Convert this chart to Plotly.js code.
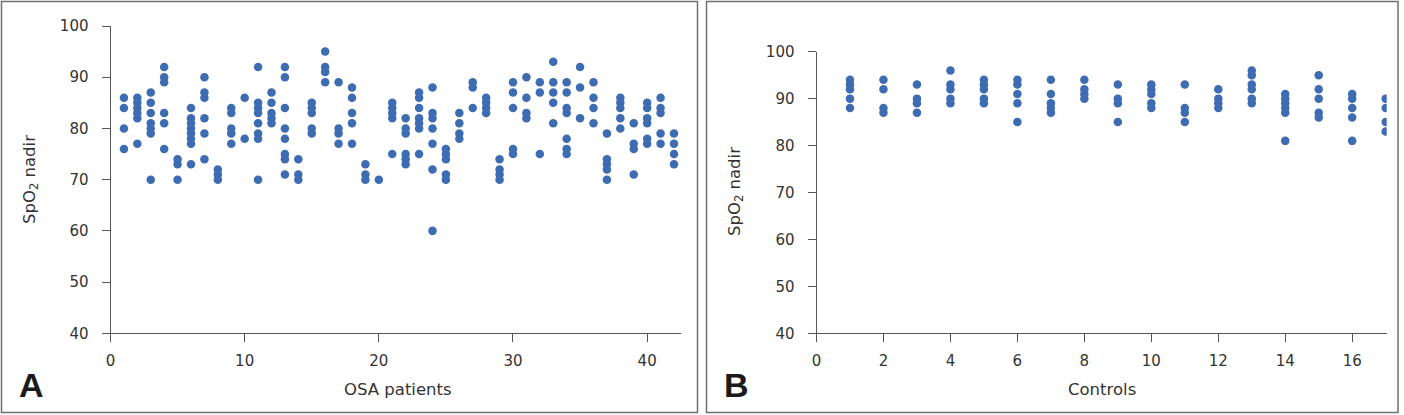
<!DOCTYPE html>
<html>
<head>
<meta charset="utf-8">
<script src="https://cdn.plot.ly/plotly-3.0.1.min.js"></script>
<style>html,body{margin:0;padding:0;background:#fff;}#chart{width:1404px;height:415px;}</style>
</head>
<body>
<div id="chart"></div>
<script>
// SpO2 nadir values per OSA patient (patient 1..42)
const osaValues = [
  [86, 84, 80, 76],
  [86, 85, 84, 83, 82, 77],
  [87, 85, 83, 81, 80, 79, 70],
  [92, 90, 89, 83, 81, 76],
  [74, 73, 70],
  [84, 82, 81, 80, 79, 78, 77, 73],
  [90, 87, 86, 82, 79, 74],
  [72, 71, 70],
  [84, 83, 80, 79, 77],
  [86, 78],
  [92, 85, 84, 83, 81, 79, 78, 70],
  [87, 85, 83, 82, 81],
  [92, 90, 84, 80, 78, 75, 74, 71],
  [74, 71, 70],
  [85, 84, 83, 80, 79],
  [95, 92, 91, 89],
  [89, 80, 79, 77],
  [88, 86, 83, 81, 77],
  [73, 71, 70],
  [70],
  [85, 84, 83, 82, 75],
  [82, 80, 79, 75, 74, 73],
  [87, 86, 84, 82, 81, 80, 75],
  [88, 83, 82, 80, 77, 72, 60],
  [76, 75, 74, 71, 70],
  [83, 81, 79, 78],
  [89, 88, 84],
  [86, 85, 84, 83],
  [74, 72, 71, 70],
  [89, 87, 84, 76, 75],
  [90, 86, 83, 82],
  [89, 87, 75],
  [93, 89, 87, 85, 81],
  [89, 87, 84, 83, 78, 76, 75],
  [92, 88, 82],
  [89, 86, 84, 81],
  [79, 74, 73, 72, 70],
  [86, 85, 84, 82, 80],
  [81, 77, 76, 71],
  [85, 84, 82, 81, 78, 77],
  [86, 84, 83, 79, 77],
  [79, 77, 75, 73]
];
// SpO2 nadir values per control subject (control 1..17)
const controlValues = [
  [94, 93, 92, 90, 88],
  [94, 92, 88, 87],
  [93, 90, 89, 87],
  [96, 93, 92, 90, 89],
  [94, 93, 92, 90, 89],
  [94, 93, 91, 89, 85],
  [94, 91, 89, 88, 87],
  [94, 92, 91, 90],
  [93, 90, 89, 85],
  [93, 92, 91, 89, 88],
  [93, 88, 87, 85],
  [92, 90, 89, 88],
  [96, 95, 93, 92, 90, 89],
  [91, 90, 89, 88, 87, 81],
  [95, 92, 90, 87, 86],
  [91, 90, 88, 86, 81],
  [90, 88, 85, 83]
];
const osaTicks = [0, 10, 20, 30, 40];
const controlTicks = [0, 2, 4, 6, 8, 10, 12, 14, 16];
const yTicks = [40, 50, 60, 70, 80, 90, 100];
const xTitleA = 'OSA patients';
const xTitleB = 'Controls';
const yTitle = 'SpO<sub>2</sub> nadir';

function flatten(groups) {
  const x = [], y = [];
  groups.forEach((vals, i) => vals.forEach(v => { x.push(i + 1); y.push(v); }));
  return {x, y};
}
const a = flatten(osaValues);
const b = flatten(controlValues);

const W = 1404, H = 415;
const px = v => v / W;
const py = v => 1 - v / H;

const dotColor = '#3d6cb3';
const marker = {color: dotColor, size: 8.5, line: {width: 0}};
const traces = [
  {type: 'scatter', mode: 'markers', x: a.x, y: a.y, xaxis: 'x', yaxis: 'y', marker, hoverinfo: 'x+y'},
  {type: 'scatter', mode: 'markers', x: b.x, y: b.y, xaxis: 'x2', yaxis: 'y2', marker, hoverinfo: 'x+y'}
];

const tickFont = {family: 'DejaVu Sans, sans-serif', size: 15, color: '#333'};
const axisCommon = {
  showgrid: false, zeroline: false, showline: true, linecolor: '#555', linewidth: 1,
  ticks: 'outside', ticklen: 8, tickcolor: '#555', tickwidth: 1,
  tickfont: tickFont, fixedrange: true
};

const layout = {
  width: W, height: H,
  margin: {l: 0, r: 0, t: 0, b: 0},
  paper_bgcolor: '#fff', plot_bgcolor: 'rgba(0,0,0,0)',
  showlegend: false,
  xaxis: Object.assign({}, axisCommon, {
    domain: [px(110.5), px(680.7)], range: [0, 42.5],
    tickvals: osaTicks, ticktext: osaTicks.map(String), anchor: 'y', ticklabelstandoff: 6
  }),
  yaxis: Object.assign({}, axisCommon, {
    domain: [py(333.3), py(26)], range: [40, 100],
    tickvals: yTicks, ticktext: yTicks.map(String), anchor: 'x', ticklabelstandoff: 10
  }),
  xaxis2: Object.assign({}, axisCommon, {
    domain: [px(816.5), px(1386.7)], range: [0, 17.03],
    tickvals: controlTicks, ticktext: controlTicks.map(String), anchor: 'y2', ticklabelstandoff: 6
  }),
  yaxis2: Object.assign({}, axisCommon, {
    domain: [py(333.3), py(51.7)], range: [40, 100],
    tickvals: yTicks, ticktext: yTicks.map(String), anchor: 'x2', ticklabelstandoff: 10
  }),
  shapes: [
    {type: 'rect', xref: 'paper', yref: 'paper', x0: px(1.5), x1: px(697.5), y0: py(412.5), y1: py(1.5),
     line: {color: '#707070', width: 1.5}},
    {type: 'rect', xref: 'paper', yref: 'paper', x0: px(706.5), x1: px(1398), y0: py(412.5), y1: py(1.5),
     line: {color: '#707070', width: 1.5}}
  ],
  annotations: [
    {xref: 'paper', yref: 'paper', x: px(398), y: py(389), text: xTitleA, showarrow: false,
     xanchor: 'center', yanchor: 'middle', font: {family: 'DejaVu Sans, sans-serif', size: 16.5, color: '#333'}},
    {xref: 'paper', yref: 'paper', x: px(1102), y: py(389), text: xTitleB, showarrow: false,
     xanchor: 'center', yanchor: 'middle', font: {family: 'DejaVu Sans, sans-serif', size: 16.5, color: '#333'}},
    {xref: 'paper', yref: 'paper', x: px(30), y: py(180), text: yTitle, showarrow: false, textangle: -90,
     xanchor: 'center', yanchor: 'middle', font: {family: 'DejaVu Sans, sans-serif', size: 16.5, color: '#333'}},
    {xref: 'paper', yref: 'paper', x: px(735), y: py(192), text: yTitle, showarrow: false, textangle: -90,
     xanchor: 'center', yanchor: 'middle', font: {family: 'DejaVu Sans, sans-serif', size: 16.5, color: '#333'}},
    {xref: 'paper', yref: 'paper', x: px(31), y: py(385), text: '<b>A</b>', showarrow: false,
     xanchor: 'center', yanchor: 'middle', font: {family: 'Liberation Sans, Arial, sans-serif', size: 34, color: '#1a1a1a'}},
    {xref: 'paper', yref: 'paper', x: px(736), y: py(385), text: '<b>B</b>', showarrow: false,
     xanchor: 'center', yanchor: 'middle', font: {family: 'Liberation Sans, Arial, sans-serif', size: 34, color: '#1a1a1a'}}
  ]
};

Plotly.newPlot('chart', traces, layout, {displayModeBar: false, staticPlot: true});
</script>
</body>
</html>
